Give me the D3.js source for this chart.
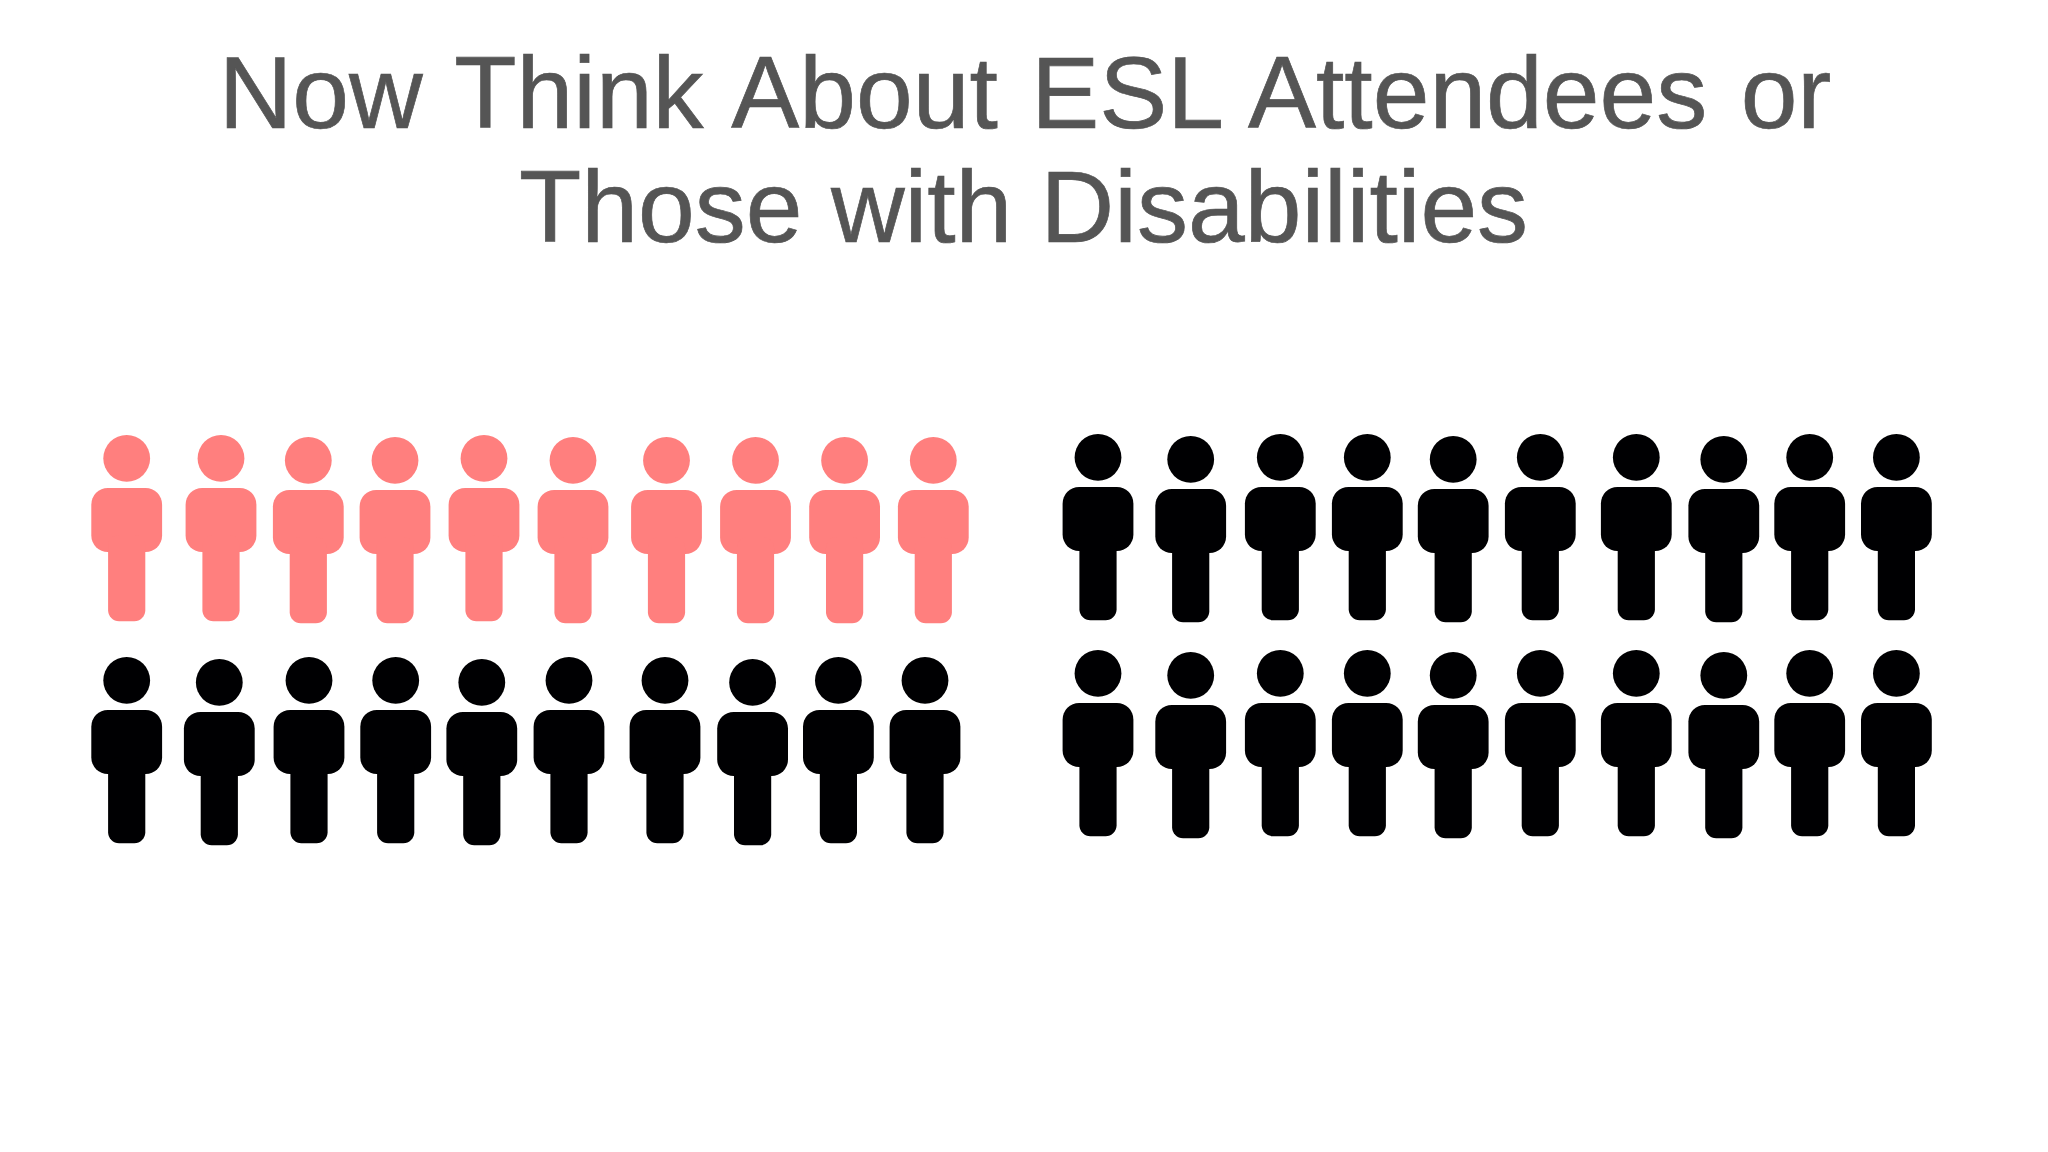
<!DOCTYPE html>
<html>
<head>
<meta charset="utf-8">
<style>
  html, body { margin: 0; padding: 0; background: #fff; }
  svg { display: block; }
</style>
<script src="https://cdn.jsdelivr.net/npm/d3@7"></script>
</head>
<body>
<div id="chart"></div>
<script>
const titleLines = ["Now Think About ESL Attendees or", "Those with Disabilities"];

// two blocks of people, two rows of ten in each
const groups = ["general", "eslOrDisability"];
const rows = [0, 1];
const columns = d3.range(10);
// how many people are highlighted, per group, per row
const highlightedGeneral = [10, 0];
const highlightedEsl = [0, 0];

const width = 2048, height = 1152;
const pink = "#ff7f7e", black = "#000002", titleColor = "#555555";

// the people were placed by hand in the original, so the scales are ordinal
const x = {
  general: [
    d3.scaleOrdinal().domain(columns).range([126.7, 221, 308.3, 395, 484, 573, 666.5, 755.5, 844.6, 933.3]),
    d3.scaleOrdinal().domain(columns).range([126.7, 219.3, 309, 395.7, 481.8, 569, 665, 752.6, 838.4, 925])
  ],
  eslOrDisability: [
    d3.scaleOrdinal().domain(columns).range([1098, 1190.7, 1280.3, 1367.3, 1453.2, 1540.3, 1636.3, 1723.8, 1809.7, 1896.4]),
    d3.scaleOrdinal().domain(columns).range([1098, 1190.7, 1280.3, 1367.3, 1453.2, 1540.3, 1636.3, 1723.8, 1809.7, 1896.4])
  ]
};

const y = {
  general: [
    d3.scaleOrdinal().domain(columns).range([435, 435, 437, 437, 435, 437, 437, 437, 437, 437]),
    d3.scaleOrdinal().domain(columns).range([657, 659, 657, 657, 659, 657, 657, 659, 657, 657])
  ],
  eslOrDisability: [
    d3.scaleOrdinal().domain(columns).range([434, 436, 434, 434, 436, 434, 434, 436, 434, 434]),
    d3.scaleOrdinal().domain(columns).range([650, 652, 650, 650, 652, 650, 650, 652, 650, 650])
  ]
};

const highlighted = { general: highlightedGeneral, eslOrDisability: highlightedEsl };

const people = [];
groups.forEach(function(g) {
  rows.forEach(function(r) {
    columns.forEach(function(c) {
      people.push({ group: g, row: r, col: c, on: c < highlighted[g][r] });
    });
  });
});

const svg = d3.select("#chart").append("svg")
  .attr("width", width)
  .attr("height", height);

svg.append("rect")
  .attr("width", width)
  .attr("height", height)
  .attr("fill", "#fff");

svg.selectAll(".title")
  .data(titleLines)
  .enter().append("text")
  .attr("class", "title")
  .attr("x", function(d, i) { return i == 0 ? 1025 : 1023.6; })
  .attr("y", function(d, i) { return i == 0 ? 128 : 241.7; })
  .attr("text-anchor", "middle")
  .attr("fill", titleColor)
  .attr("stroke", titleColor)
  .attr("stroke-width", 0.7)
  .style("font-family", "'Liberation Sans', Arial, sans-serif")
  .style("font-size", "102px")
  .style("word-spacing", function(d, i) { return i == 0 ? "5px" : "0px"; })
  .text(function(d) { return d; });

const person = svg.selectAll(".person")
  .data(people)
  .enter().append("g")
  .attr("class", "person")
  .attr("transform", function(d) {
    return "translate(" + x[d.group][d.row](d.col) + "," + y[d.group][d.row](d.col) + ")";
  })
  .attr("fill", function(d) { return d.on ? pink : black; });

person.append("circle")
  .attr("cy", 23.4)
  .attr("r", 23.4);

person.append("rect")
  .attr("x", -35.4)
  .attr("y", 53)
  .attr("width", 70.8)
  .attr("height", 64)
  .attr("rx", 16.5);

person.append("rect")
  .attr("x", -18.6)
  .attr("y", 100)
  .attr("width", 37.2)
  .attr("height", 86.3)
  .attr("rx", 11);
</script>
</body>
</html>
